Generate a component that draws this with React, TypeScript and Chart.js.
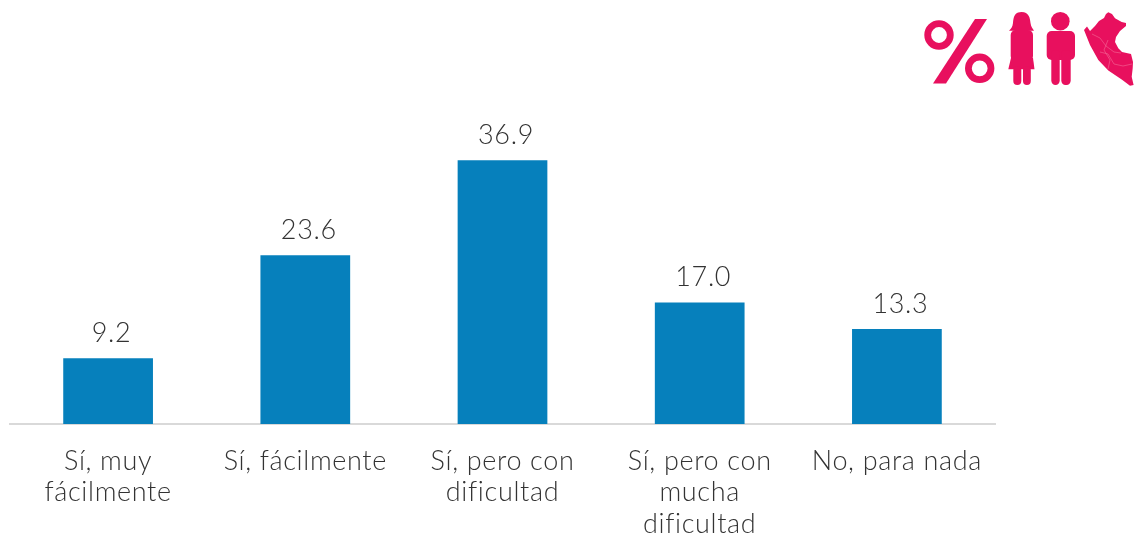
import React, { useEffect, useRef } from "react";
import { Chart, registerables } from "chart.js";

Chart.register(...registerables);

const categories = [
  ["Sí, muy", "fácilmente"],
  "Sí, fácilmente",
  ["Sí, pero con", "dificultad"],
  ["Sí, pero con", "mucha", "dificultad"],
  "No, para nada",
];
const values = [9.2, 23.6, 36.9, 17.0, 13.3];

const PINK = "#E8105E";
const FONT = "Lato";

const textSpacing = {
  id: "textSpacing",
  beforeDraw(chart: any) {
    chart.ctx.letterSpacing = "0.65px";
  },
};

const valueLabels = {
  id: "valueLabels",
  afterDatasetsDraw(chart: any) {
    const { ctx } = chart;
    const meta = chart.getDatasetMeta(0);
    ctx.save();
    ctx.font = `300 27px ${FONT}`;
    ctx.fillStyle = "#333333";
    ctx.textAlign = "center";
    ctx.textBaseline = "alphabetic";
    meta.data.forEach((el: any, i: number) => {
      ctx.fillText(values[i].toFixed(1), el.x + 3.5, el.y - 16);
    });
    ctx.restore();
  },
};

function Icons() {
  return (
    <svg
      width={1134}
      height={536}
      style={{ position: "absolute", left: 0, top: 0, pointerEvents: "none" }}
    >
      <g fill="none" stroke={PINK} strokeWidth={6.8}>
        <circle cx={939} cy={35} r={11.3} />
        <circle cx={979.7} cy={68.3} r={11.3} />
      </g>
      <g fill={PINK}>
        <polygon points="975,19 987,19 946,83.5 933,83.5" />
        <path d="M1021.5 12C1029 12 1030 18 1030.500 23C1031 27 1033 29 1034 30.700L1009 30.700C1011 29 1012.500 27 1013 23C1013.500 18 1014 12 1021.500 12Z" />
        <rect x={1010.7} y={30} width={22.3} height={31} rx={5} />
        <polygon points="1011,58 1033,58 1034.500,69.300 1008.300,69.300" />
        <rect x={1013.3} y={66} width={8} height={19} rx={4} />
        <rect x={1023} y={66} width={7.8} height={19} rx={3.9} />
        <circle cx={1060.3} cy={21.2} r={9.3} />
        <rect x={1046.7} y={31} width={28.3} height={29} rx={5} />
        <rect x={1051.3} y={50} width={8.4} height={35} rx={4.2} />
        <rect x={1061.3} y={50} width={9.4} height={35} rx={4.2} />
        <polygon points="1108.300,12.300 1112,14 1115,18.300 1121.700,22 1126,23 1126,26 1120,31 1116,37 1115,42 1118.300,48.300 1122,52 1131,54 1133,62 1132.700,68.300 1131.700,76.700 1133.600,85 1130,85.700 1121.700,79.500 1108.300,70.500 1098.300,60 1090,45 1084,30 1087,26.500 1090,31 1095,26 1099,21 1104,18 1106,14" />
      </g>
      <g fill="none" stroke="#F46A97" strokeWidth={0.6}>
        <polyline points="1092,34 1100,38 1106,46 1114,52 1121,53" />
        <polyline points="1100,52 1108,54 1114,64 1123,66 1132,64" />
        <polyline points="1108,40 1104,50 1110,60 1108,69" />
      </g>
    </svg>
  );
}

export default function App() {
  const ref = useRef<HTMLCanvasElement>(null);
  useEffect(() => {
    document.body.style.margin = "0";
    const chart = new Chart(ref.current!, {
      type: "bar",
      data: {
        labels: categories as any,
        datasets: [
          {
            data: values,
            backgroundColor: "#0680BC",
            categoryPercentage: 1,
            barPercentage: 0.455,
          },
        ],
      },
      plugins: [textSpacing, valueLabels],
      options: {
        responsive: false,
        animation: false,
        layout: { padding: { left: 9.500, right: 138.500, top: 138, bottom: 0 } },
        plugins: { legend: { display: false }, tooltip: { enabled: false } },
        scales: {
          x: {
            grid: { display: false, drawTicks: false },
            border: { display: true, color: "#d9d9d9", width: 2 },
            ticks: {
              maxRotation: 0,
              autoSkip: false,
              color: "#333333",
              padding: 21,
              font: { family: FONT, size: 27, weight: 300, lineHeight: 1.18 },
            },
            afterFit(scale: any) {
              scale.height = 112;
            },
          },
          y: { display: false, min: 0, max: 40 },
        },
      },
    });
    return () => chart.destroy();
  }, []);
  return (
    <div style={{ position: "relative", width: 1134, height: 536, overflow: "hidden" }}>
      <canvas ref={ref} width={1134} height={536} style={{ display: "block" }} />
      <Icons />
    </div>
  );
}
